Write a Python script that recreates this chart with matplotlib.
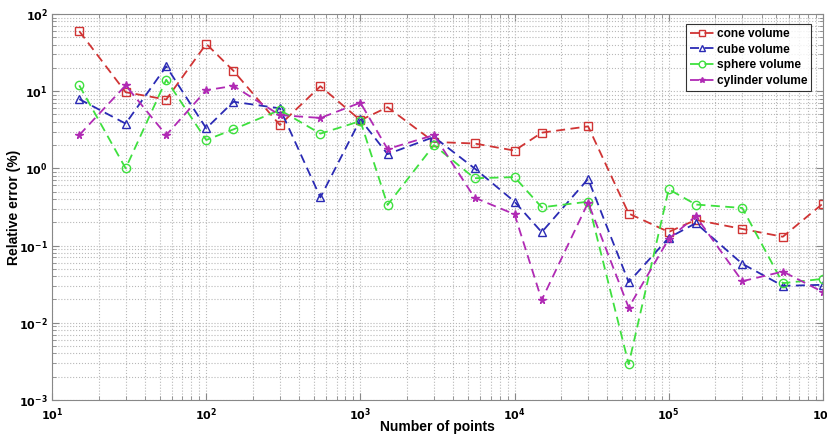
import matplotlib
matplotlib.use("Agg")
import matplotlib.pyplot as plt
from matplotlib.ticker import LogLocator, FixedLocator, NullFormatter

plt.rcParams['font.family'] = ['Liberation Sans', 'DejaVu Sans']

n_points = [15, 30, 55, 100, 150, 300, 550, 1000, 1500, 3000, 5500,
            10000, 15000, 30000, 55000, 100000, 150000, 300000, 550000, 1000000]
cone = [60, 9.7, 7.8, 41, 18.4, 3.65, 11.6, 4.2, 6.2, 2.2, 2.1,
        1.7, 2.9, 3.5, 0.26, 0.15, 0.215, 0.164, 0.13, 0.35]
cube = [7.9, 3.8, 21, 3.3, 7.3, 6.0, 0.42, 4.3, 1.53, 2.55, 1.0,
        0.37, 0.149, 0.73, 0.0335, 0.126, 0.195, 0.058, 0.030, 0.031]
sphere = [11.9, 1.0, 14.1, 2.33, 3.2, 5.7, 2.82, 4.1, 0.336, 2.0, 0.745,
          0.77, 0.313, 0.37, 0.0029, 0.536, 0.34, 0.307, 0.0325, 0.037]
cylinder = [2.7, 11.9, 2.7, 10.3, 11.7, 4.9, 4.5, 7.1, 1.78, 2.7, 0.417,
            0.254, 0.0197, 0.36, 0.0157, 0.122, 0.24, 0.0345, 0.046, 0.025]

series = [
    ("cone volume", cone, "#d03434", "s"),
    ("cube volume", cube, "#2a2ab4", "^"),
    ("sphere volume", sphere, "#3ee03e", "o"),
    ("cylinder volume", cylinder, "#b02ab4", "*"),
]

fig = plt.figure(figsize=(8.27, 4.38), dpi=100)
ax = fig.add_axes([0.063, 0.087, 0.932, 0.881])

for label, vals, col, mk in series:
    ms = 6 if mk != "*" else 5.5
    ax.plot(n_points, vals, linestyle=(0, (5, 3)), color=col, linewidth=1.3,
            marker=mk, markersize=ms, markerfacecolor='none' if mk != "*" else col,
            markeredgecolor=col, markeredgewidth=1.0, label=label)

ax.set_xscale('log')
ax.set_yscale('log')
ax.set_xlim(10, 1e6)
ax.set_ylim(1e-3, 1e2)

xt = [10, 100, 1000, 10000, 100000, 1000000]
yt = [1e-3, 1e-2, 1e-1, 1, 10, 100]
ax.xaxis.set_major_locator(FixedLocator(xt))
ax.yaxis.set_major_locator(FixedLocator(yt))
ax.set_xticklabels([r'$\mathbf{10^{%d}}$' % e for e in range(1, 7)])
ax.set_yticklabels([r'$\mathbf{10^{%d}}$' % e for e in range(-3, 3)])
ax.xaxis.set_minor_locator(LogLocator(base=10, subs=range(2, 10), numticks=20))
ax.yaxis.set_minor_locator(LogLocator(base=10, subs=range(2, 10), numticks=20))
ax.xaxis.set_minor_formatter(NullFormatter())
ax.yaxis.set_minor_formatter(NullFormatter())

ax.tick_params(which='both', direction='in', top=True, right=True, colors='#888888',
               labelcolor='black', labelsize=8)
ax.tick_params(which='major', length=5, pad=3)
ax.tick_params(which='minor', length=3)
ax.tick_params(axis='x', which='major', pad=5)
ax.grid(True, which='both', linestyle=':', color='#b8b8b8', linewidth=0.8)
for s in ax.spines.values():
    s.set_color('#888888')

ax.set_xlabel('Number of points', fontsize=10, fontweight='bold', va='center')
ax.set_ylabel('Relative error (%)', fontsize=10, fontweight='bold', va='center')
ax.xaxis.set_label_coords(0.5, -0.07)
ax.yaxis.set_label_coords(-0.05, 0.5)

leg = ax.legend(loc='upper right', prop={'weight': 'bold', 'size': 8.6},
                frameon=True, fancybox=False, handlelength=2.0, handletextpad=0.25,
                borderpad=0.35, labelspacing=0.3, markerscale=0.8,
                bbox_to_anchor=(0.993, 0.99))
leg.get_frame().set_edgecolor('black')
leg.get_frame().set_linewidth(0.8)

fig.savefig('out.png', dpi=100)
